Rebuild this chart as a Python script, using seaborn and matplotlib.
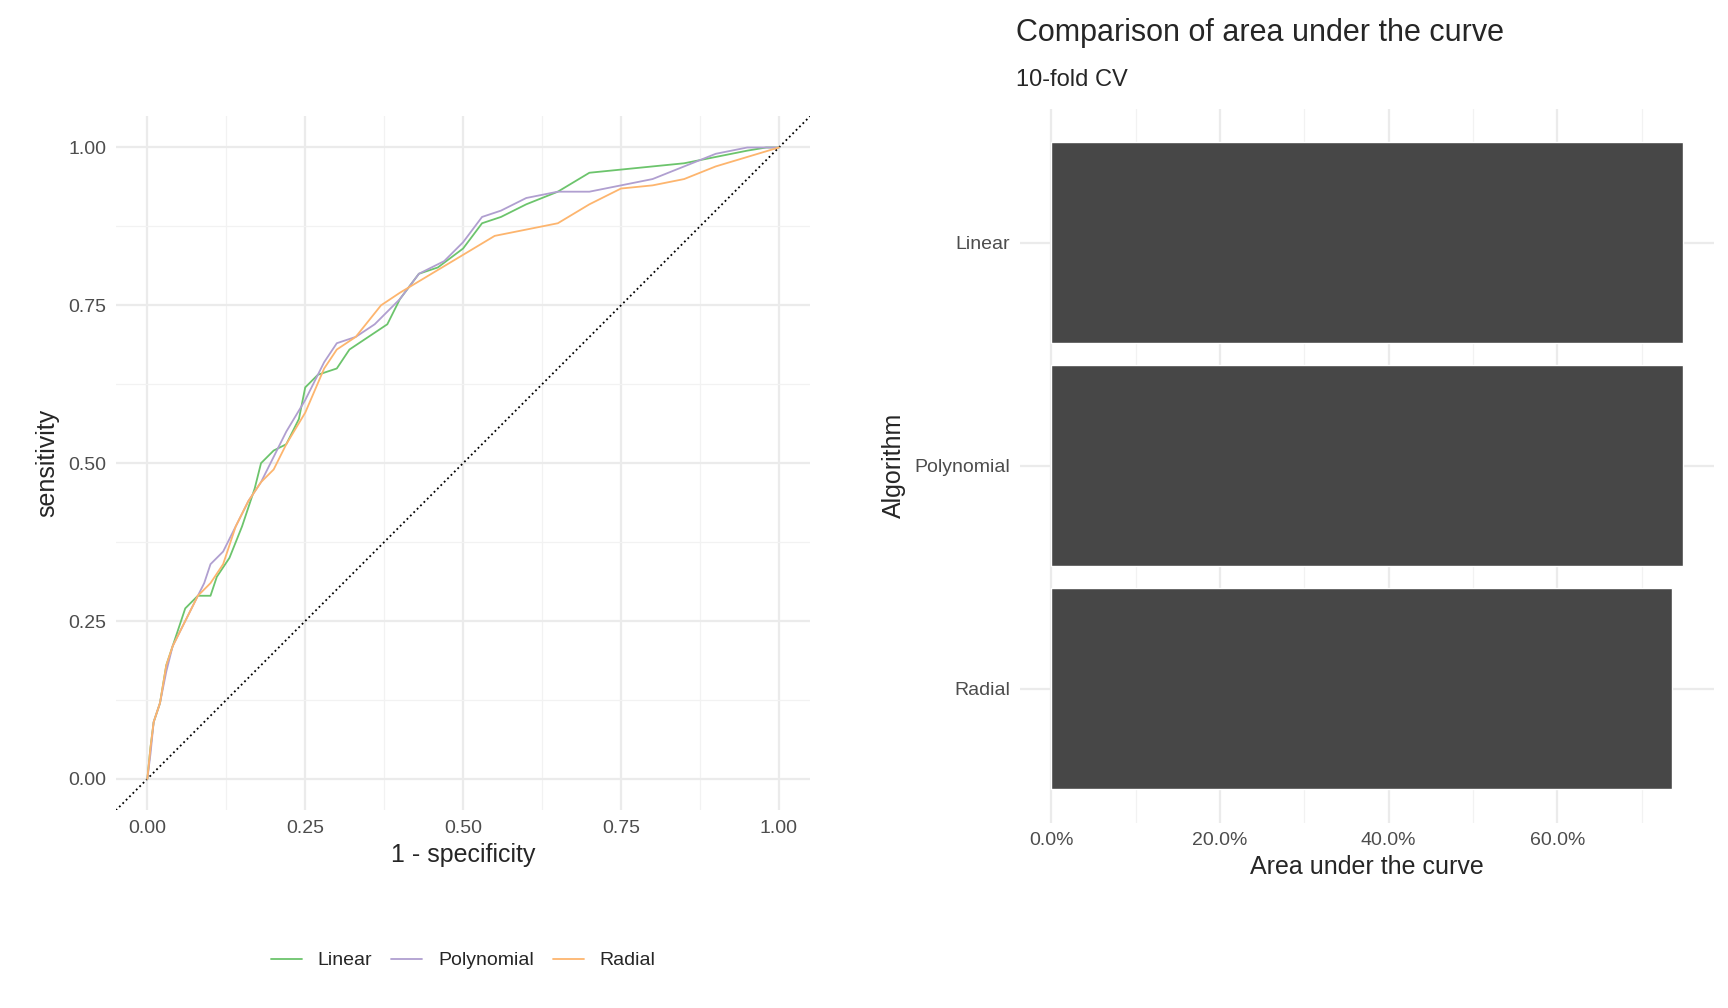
import pandas as pd
import seaborn as sns
import matplotlib
matplotlib.use("Agg")
import matplotlib.pyplot as plt
from matplotlib.ticker import PercentFormatter, MultipleLocator

# ROC knots (1 - specificity, sensitivity)
linear_fpr = [0, 0.005, 0.01, 0.02, 0.03, 0.04, 0.05, 0.06, 0.08, 0.10, 0.11, 0.13, 0.15, 0.17, 0.18, 0.20, 0.22, 0.24, 0.25, 0.27, 0.30, 0.32, 0.35, 0.38, 0.40, 0.43, 0.46, 0.50, 0.53, 0.56, 0.60, 0.65, 0.70, 0.75, 0.80, 0.85, 0.90, 0.95, 0.98, 1.0]
linear_tpr = [0, 0.05, 0.09, 0.12, 0.18, 0.21, 0.24, 0.27, 0.29, 0.29, 0.32, 0.35, 0.40, 0.46, 0.50, 0.52, 0.53, 0.57, 0.62, 0.64, 0.65, 0.68, 0.70, 0.72, 0.76, 0.80, 0.81, 0.84, 0.88, 0.89, 0.91, 0.93, 0.96, 0.965, 0.97, 0.975, 0.985, 0.995, 1.0, 1.0]
poly_fpr = [0, 0.005, 0.01, 0.02, 0.03, 0.04, 0.05, 0.07, 0.09, 0.10, 0.12, 0.14, 0.16, 0.18, 0.20, 0.22, 0.25, 0.28, 0.30, 0.33, 0.36, 0.40, 0.43, 0.47, 0.50, 0.53, 0.56, 0.60, 0.65, 0.70, 0.75, 0.80, 0.85, 0.90, 0.95, 1.0]
poly_tpr = [0, 0.04, 0.09, 0.12, 0.17, 0.21, 0.23, 0.27, 0.31, 0.34, 0.36, 0.40, 0.44, 0.47, 0.51, 0.55, 0.60, 0.66, 0.69, 0.70, 0.72, 0.76, 0.80, 0.82, 0.85, 0.89, 0.90, 0.92, 0.93, 0.93, 0.94, 0.95, 0.97, 0.99, 1.0, 1.0]
radial_fpr = [0, 0.005, 0.01, 0.02, 0.03, 0.04, 0.06, 0.08, 0.10, 0.12, 0.14, 0.16, 0.18, 0.20, 0.22, 0.25, 0.28, 0.30, 0.33, 0.37, 0.40, 0.45, 0.50, 0.55, 0.60, 0.65, 0.70, 0.75, 0.80, 0.85, 0.90, 0.95, 1.0]
radial_tpr = [0, 0.05, 0.09, 0.12, 0.18, 0.21, 0.25, 0.29, 0.31, 0.34, 0.40, 0.44, 0.47, 0.49, 0.53, 0.58, 0.65, 0.68, 0.70, 0.75, 0.77, 0.80, 0.83, 0.86, 0.87, 0.88, 0.91, 0.935, 0.94, 0.95, 0.97, 0.985, 1.0]

algorithms = ["Linear", "Polynomial", "Radial"]
auc_values = [0.749, 0.749, 0.736]
palette = {"Linear": "#6cc46c", "Polynomial": "#b09fd0", "Radial": "#fdb56e"}

roc = pd.concat([
    pd.DataFrame({"fpr": linear_fpr, "tpr": linear_tpr, "model": "Linear"}),
    pd.DataFrame({"fpr": poly_fpr, "tpr": poly_tpr, "model": "Polynomial"}),
    pd.DataFrame({"fpr": radial_fpr, "tpr": radial_tpr, "model": "Radial"}),
])
auc = pd.DataFrame({"Algorithm": algorithms, "auc": auc_values})

sns.set_theme(style="white")
plt.rcParams["font.family"] = ["Liberation Sans", "DejaVu Sans"]

fig = plt.figure(figsize=(17.28, 10.08), dpi=100)
ax1 = fig.add_axes([0.067, 0.196, 0.402, 0.689])
ax2 = fig.add_axes([0.590, 0.184, 0.402, 0.708])

def style(ax):
    for s in ax.spines.values():
        s.set_visible(False)
    ax.grid(True, which="major", color="#ebebeb", lw=1.6)
    ax.grid(True, which="minor", color="#f2f2f2", lw=0.9)
    ax.set_axisbelow(True)
    ax.tick_params(labelsize=14, colors="#4d4d4d", length=0, pad=7)

# ROC panel
ax1.plot([-0.05, 1.05], [-0.05, 1.05], ls=":", color="black", lw=1.3)
sns.lineplot(data=roc, x="fpr", y="tpr", hue="model", palette=palette,
             estimator=None, sort=False, lw=1.3, ax=ax1, legend=False)
ax1.set_xlim(-0.05, 1.05)
ax1.set_ylim(-0.05, 1.05)
ax1.set_xticks([0, 0.25, 0.5, 0.75, 1.0])
ax1.set_yticks([0, 0.25, 0.5, 0.75, 1.0])
ax1.set_xticklabels(["0.00", "0.25", "0.50", "0.75", "1.00"])
ax1.set_yticklabels(["0.00", "0.25", "0.50", "0.75", "1.00"])
ax1.xaxis.set_minor_locator(MultipleLocator(0.125))
ax1.yaxis.set_minor_locator(MultipleLocator(0.125))
style(ax1)
ax1.set_xlabel("1 - specificity", fontsize=18, labelpad=4)
ax1.set_ylabel("sensitivity", fontsize=18, labelpad=6)

handles = [plt.Line2D([], [], color=palette[m], lw=1.3) for m in algorithms]
fig.legend(handles, algorithms, loc="center", bbox_to_anchor=(0.268, 0.047), ncol=3,
           frameon=False, fontsize=14, handlelength=1.6, columnspacing=1.0)

# AUC panel
sns.barplot(data=auc, x="auc", y="Algorithm", order=algorithms, color="#474747",
            saturation=1, width=0.9, ax=ax2)
ax2.set_xlim(-0.0375, 0.786)
ax2.set_ylim(2.6, -0.6)
ax2.set_xticks([0, 0.2, 0.4, 0.6])
ax2.xaxis.set_minor_locator(MultipleLocator(0.1))
ax2.xaxis.set_major_formatter(PercentFormatter(1.0, decimals=1))
style(ax2)
ax2.grid(True, which="minor", axis="x", color="#f2f2f2", lw=0.9)
ax2.set_xlabel("Area under the curve", fontsize=18, labelpad=4)
ax2.set_ylabel("Algorithm", fontsize=18, labelpad=6)
fig.text(0.588, 0.967, "Comparison of area under the curve", fontsize=22, va="center")
fig.text(0.588, 0.921, "10-fold CV", fontsize=17, va="center")

fig.savefig("out.png", dpi=100)
